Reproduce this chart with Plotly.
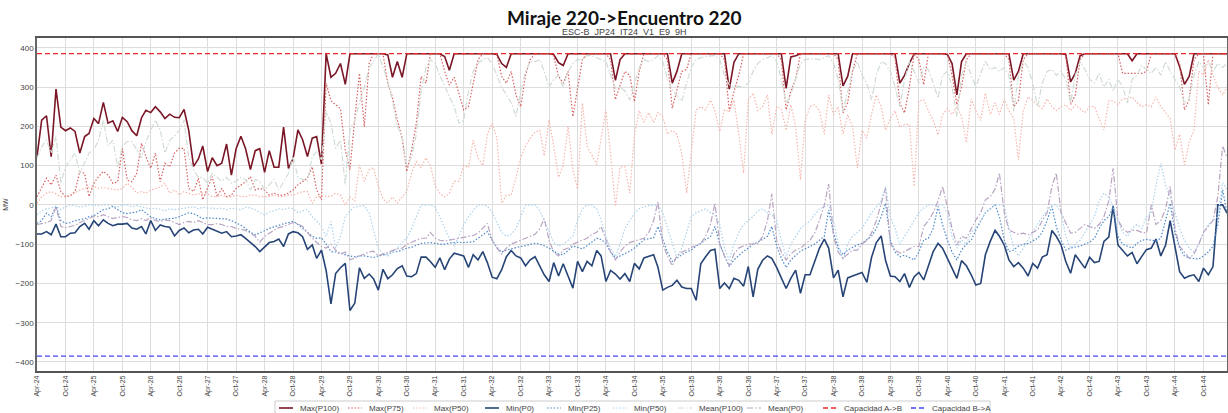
import plotly.graph_objs as go
import pandas as pd

# monthly series, Apr-24 .. Mar-45
months = pd.date_range('2024-04-01', periods=252, freq='MS')

max_p100 = [
	123, 216, 227, 123, 295, 198, 189, 196, 187, 132, 174, 182,
	220, 207, 261, 208, 214, 187, 223, 212, 189, 176, 222, 241,
	235, 250, 237, 220, 231, 223, 222, 243, 190, 98, 117, 150,
	85, 120, 100, 106, 155, 76, 143, 175, 143, 90, 138, 143,
	83, 138, 96, 96, 198, 93, 118, 191, 166, 123, 170, 174,
	104, 385, 325, 335, 360, 307, 385, 385, 385, 385, 385, 385,
	385, 385, 382, 325, 365, 325, 385, 385, 385, 385, 385, 385,
	385, 385, 378, 343, 385, 385, 385, 385, 385, 385, 385, 385,
	385, 383, 360, 350, 385, 385, 385, 385, 385, 385, 385, 385,
	385, 383, 362, 355, 385, 385, 385, 385, 385, 385, 385, 385,
	385, 385, 317, 370, 385, 385, 385, 385, 385, 385, 385, 385,
	385, 385, 310, 340, 385, 385, 385, 385, 385, 385, 385, 385,
	385, 385, 295, 363, 385, 385, 385, 385, 385, 385, 385, 385,
	385, 385, 297, 377, 380, 385, 385, 385, 385, 385, 385, 385,
	385, 385, 303, 327, 385, 385, 385, 385, 385, 385, 385, 385,
	385, 385, 310, 330, 360, 385, 385, 385, 385, 385, 385, 385,
	383, 360, 280, 365, 385, 385, 385, 385, 385, 385, 385, 385,
	385, 385, 318, 340, 385, 385, 385, 385, 385, 385, 385, 385,
	385, 383, 313, 335, 380, 385, 385, 385, 385, 385, 385, 385,
	385, 385, 385, 367, 385, 385, 385, 385, 385, 385, 385, 385,
	385, 352, 307, 327, 385, 385, 385, 385, 385, 385, 385, 385,
]

max_p75 = [
	21, 45, 68, 51, 76, 34, 21, 23, 34, 85, 80, 21,
	55, 72, 85, 76, 55, 59, 144, 63, 59, 80, 157, 123,
	93, 132, 59, 106, 97, 132, 144, 144, 42, 34, 68, 13,
	42, 72, 21, 42, 21, 25, 42, 51, 59, 72, 38, 42,
	38, 25, 30, 25, 25, 30, 38, 51, 59, 68, 97, 38,
	13, 310, 265, 255, 245, 140, 90, 220, 335, 199, 360, 385,
	385, 385, 307, 274, 216, 170, 85, 140, 208, 327, 310, 385,
	385, 385, 340, 305, 325, 280, 242, 250, 307, 370, 385, 385,
	385, 383, 327, 310, 340, 280, 250, 330, 370, 385, 385, 385,
	385, 380, 327, 310, 340, 225, 300, 370, 385, 385, 385, 385,
	385, 370, 268, 305, 340, 330, 263, 340, 385, 385, 385, 385,
	385, 370, 246, 293, 340, 345, 385, 385, 385, 385, 385, 385,
	385, 370, 238, 289, 330, 385, 385, 385, 385, 385, 385, 385,
	385, 370, 242, 290, 320, 385, 385, 385, 385, 385, 385, 385,
	385, 370, 234, 260, 340, 385, 385, 385, 385, 385, 385, 385,
	385, 375, 259, 234, 300, 385, 370, 306, 385, 385, 385, 385,
	385, 330, 255, 300, 370, 385, 385, 385, 385, 385, 385, 385,
	385, 370, 250, 265, 370, 385, 385, 385, 385, 385, 385, 385,
	385, 385, 255, 280, 370, 385, 385, 385, 385, 385, 385, 385,
	385, 335, 335, 335, 335, 335, 340, 385, 385, 385, 385, 385,
	385, 360, 242, 268, 370, 385, 385, 255, 385, 385, 385, 385,
]

max_p50 = [
	4, 21, 30, 34, 28, 21, 21, 25, 30, 38, 42, 45,
	47, 42, 44, 42, 40, 38, 42, 55, 45, 30, 34, 30,
	38, 42, 45, 55, 30, 38, 25, 34, 30, 25, 28, 30,
	28, 21, 21, 25, 20, 21, 25, 21, 21, 25, 25, 21,
	21, 21, 25, 21, 21, 25, 25, 30, 34, 34, 4, 21,
	21, 22, 22, 30, 25, 0, 20, 10, 102, 60, 90, 95,
	47, 15, 5, 20, 5, 20, 35, 81, 110, 95, 120, 100,
	50, 30, 20, 30, 60, 60, 100, 95, 165, 120, 100, 180,
	208, 170, 4, 25, 25, 70, 120, 150, 170, 185, 190, 125,
	217, 150, 70, 100, 200, 90, 40, 259, 150, 127, 102, 170,
	242, 130, -4, 97, 97, 30, 178, 240, 210, 235, 210, 235,
	225, 180, 190, 180, 130, 30, 130, 242, 250, 242, 267, 240,
	187, 242, 238, 267, 180, 81, 267, 285, 240, 250, 280, 180,
	250, 245, 190, 255, 200, 64, 215, 250, 255, 240, 180, 280,
	230, 250, 180, 230, 200, 94, 190, 170, 230, 280, 250, 190,
	220, 240, 198, 205, 205, 47, 264, 268, 240, 215, 178, 230,
	245, 230, 250, 225, 158, 270, 240, 215, 285, 230, 260, 230,
	270, 240, 220, 115, 240, 275, 265, 255, 245, 270, 250, 240,
	250, 255, 240, 255, 245, 235, 250, 250, 220, 191, 265, 265,
	255, 270, 270, 275, 260, 250, 255, 250, 275, 250, 235, 220,
	140, 180, 102, 160, 190, 340, 330, 370, 330, 300, 280, 300,
]

min_p0 = [
	-74, -74, -68, -76, -49, -81, -81, -72, -71, -55, -47, -62,
	-40, -53, -38, -47, -53, -49, -49, -47, -59, -62, -55, -74,
	-40, -65, -51, -55, -57, -79, -65, -59, -71, -64, -62, -74,
	-57, -62, -68, -72, -68, -81, -79, -76, -85, -96, -106, -119,
	-106, -96, -93, -87, -106, -74, -68, -71, -81, -113, -102, -136,
	-115, -167, -252, -175, -160, -149, -269, -250, -160, -187, -176, -188,
	-217, -164, -188, -178, -162, -155, -181, -183, -175, -133, -133, -144,
	-159, -135, -165, -138, -123, -127, -130, -159, -127, -140, -119, -147,
	-184, -188, -165, -132, -116, -130, -135, -155, -140, -132, -157, -178,
	-195, -147, -181, -150, -181, -212, -144, -170, -144, -155, -116, -130,
	-195, -167, -176, -189, -175, -195, -149, -163, -135, -130, -127, -159,
	-217, -210, -205, -192, -209, -213, -213, -243, -150, -132, -116, -113,
	-213, -199, -213, -187, -192, -207, -157, -234, -164, -141, -130, -136,
	-159, -186, -213, -187, -166, -225, -178, -178, -147, -110, -87, -110,
	-186, -166, -234, -186, -181, -176, -172, -197, -134, -96, -79, -141,
	-181, -183, -195, -175, -210, -183, -172, -191, -153, -119, -98, -110,
	-136, -161, -187, -142, -155, -178, -204, -200, -127, -93, -65, -80,
	-102, -140, -157, -147, -161, -181, -149, -161, -133, -127, -65, -80,
	-102, -144, -174, -127, -144, -161, -133, -147, -144, -93, -82, -3,
	-102, -116, -130, -121, -150, -131, -114, -110, -87, -130, -102, -40,
	-110, -170, -187, -181, -178, -195, -161, -178, -157, 0, 0, -21,
]

min_p25 = [
	-47, -40, -21, -30, -3, -40, -47, -45, -40, -38, -35, -30,
	-28, -20, -12, -10, -4, -12, -20, -22, -20, -18, -12, -20,
	-30, -35, -38, -36, -35, -34, -30, -25, -20, -22, -30, -35,
	-33, -34, -34, -35, -36, -40, -45, -52, -60, -70, -76, -72,
	-66, -60, -55, -52, -48, -44, -42, -50, -60, -68, -80, -85,
	-84, -100, -119, -120, -124, -127, -130, -132, -130, -130, -132, -134,
	-130, -128, -125, -120, -119, -115, -110, -108, -104, -98, -97, -96,
	-98, -100, -100, -97, -96, -95, -96, -94, -94, -85, -76, -68,
	-90, -108, -120, -115, -112, -108, -106, -104, -100, -98, -100, -104,
	-110, -118, -125, -127, -115, -105, -108, -112, -104, -95, -85, -88,
	-98, -120, -136, -130, -125, -118, -110, -100, -89, -86, -84, -55,
	-90, -120, -144, -135, -127, -120, -115, -105, -98, -88, -81, -55,
	-100, -130, -157, -140, -128, -118, -110, -100, -95, -88, -80, -55,
	-105, -135, -160, -140, -130, -118, -112, -105, -100, -90, -80, -13,
	-70, -110, -127, -115, -108, -102, -98, -90, -80, -60, -30, 4,
	-90, -120, -132, -128, -135, -140, -120, -89, -85, -60, -4, -50,
	-90, -120, -140, -115, -100, -90, -64, -40, -20, -10, 0, -30,
	-90, -119, -115, -105, -100, -98, -92, -85, -70, -40, -4, -55,
	-90, -115, -110, -108, -105, -100, -95, -85, -60, -40, -30, -5,
	-80, -100, -105, -110, -98, -90, -88, -90, -92, -85, -40, 4,
	-70, -110, -130, -135, -137, -138, -130, -120, -105, -50, 38, -21,
]

min_p50 = [
	-25, -15, -10, -8, -3, -12, -5, 0, -2, -5, -3, 0,
	0, -2, 0, 0, -3, -5, 0, 0, -5, -2, -5, -8,
	-10, -8, -12, -15, -10, -12, -10, -8, -6, -5, -10, -6,
	-8, -8, -10, -8, -12, -8, -10, -12, -6, -8, -12, -20,
	-25, -18, -15, -10, -12, -8, -10, -20, -15, -12, -30, -40,
	-55, -80, -42, -110, -80, -30, -15, -5, -4, -2, -20, -60,
	-111, -125, -130, -120, -110, -95, -85, -60, -30, 0, 0, 0,
	-5, -30, -60, -85, -104, -80, -50, -30, -15, 0, 0, -3,
	-20, -45, -70, -80, -75, -60, -30, 0, 0, 0, -15, -40,
	-70, -95, -105, -100, -90, -80, -40, -10, 0, 0, -10, -40,
	-81, -110, -132, -100, -60, -40, -21, -10, -5, -2, 0, 0,
	-20, -60, -100, -135, -110, -70, -30, -20, -15, -10, -20, -25,
	-50, -110, -140, -100, -70, -50, -40, -30, -15, -10, -20, -25,
	-40, -90, -132, -100, -80, -60, -50, -40, -25, -10, -5, 0,
	-40, -100, -140, -100, -80, -70, -60, -40, -20, -5, 10, 47,
	-30, -60, -100, -80, -60, -40, -20, -8, 0, 0, 0, 0,
	-20, -80, -110, -90, -100, -70, -60, -40, -20, -10, 0, 0,
	0, -60, -110, -130, -110, -90, -70, -50, -30, -15, 0, 0,
	-20, -80, -110, -100, -90, -70, -50, -30, 10, 30, 20, -5,
	-40, -70, -80, -60, -50, -60, -30, -20, 50, 106, 50, 20,
	-20, -60, -90, -110, -120, -100, -70, -50, -40, -30, 57, 40,
]

mean_p100 = [
	119, 148, 165, 132, 174, 55, 97, 114, 132, 80, 106, 132,
	140, 165, 216, 150, 165, 95, 150, 161, 161, 140, 120, 161,
	191, 216, 191, 132, 165, 175, 190, 216, 120, 89, 70, 70,
	55, 80, 70, 60, 70, 55, 60, 70, 65, 38, 65, 60,
	38, 50, 65, 38, 60, 80, 123, 70, 65, 60, 123, 135,
	115, 238, 208, 144, 165, 51, 191, 216, 260, 299, 350, 365,
	385, 350, 315, 265, 200, 175, 98, 121, 180, 290, 350, 370,
	360, 330, 300, 276, 250, 208, 215, 290, 340, 360, 370, 375,
	360, 330, 300, 280, 260, 225, 290, 340, 365, 365, 370, 340,
	300, 320, 330, 300, 340, 360, 370, 370, 380, 380, 375, 370,
	365, 330, 297, 300, 290, 267, 310, 350, 370, 365, 370, 380,
	365, 320, 293, 280, 264, 310, 350, 370, 375, 378, 380, 380,
	370, 330, 306, 300, 302, 300, 310, 340, 360, 370, 375, 380,
	365, 320, 259, 280, 320, 360, 370, 372, 372, 370, 375, 380,
	360, 320, 238, 290, 340, 365, 330, 310, 267, 330, 365, 360,
	340, 300, 250, 318, 365, 340, 310, 350, 345, 310, 272, 330,
	340, 300, 225, 330, 365, 330, 300, 335, 365, 345, 350, 340,
	350, 330, 238, 330, 365, 350, 310, 250, 310, 340, 345, 330,
	340, 320, 259, 330, 365, 345, 320, 310, 335, 300, 320, 290,
	320, 300, 259, 320, 330, 355, 345, 335, 350, 330, 365, 340,
	320, 300, 259, 270, 330, 365, 350, 365, 340, 360, 350, 360,
]

mean_p0 = [
	-50, -48, -45, -40, -5, -55, -58, -55, -52, -45, -40, -35,
	-28, -30, -25, -30, -35, -32, -30, -32, -38, -40, -35, -40,
	-32, -40, -42, -38, -40, -45, -50, -45, -42, -45, -40, -45,
	-50, -50, -48, -50, -55, -55, -60, -62, -65, -72, -80, -95,
	-80, -72, -65, -58, -55, -50, -45, -48, -55, -70, -85, -95,
	-106, -110, -100, -115, -125, -120, -140, -135, -130, -125, -120, -118,
	-130, -125, -120, -115, -112, -110, -100, -95, -90, -85, -85, -70,
	-85, -90, -92, -90, -88, -85, -82, -80, -78, -72, -60, -47,
	-90, -110, -125, -110, -100, -95, -90, -85, -80, -75, -60, -35,
	-90, -120, -130, -115, -110, -100, -95, -90, -85, -75, -70, -55,
	-90, -120, -140, -120, -105, -96, -92, -88, -85, -70, -40, 8,
	-100, -130, -155, -130, -120, -115, -108, -104, -98, -80, -50, 4,
	-100, -130, -155, -125, -110, -104, -100, -100, -98, -80, -40, 28,
	-90, -120, -140, -125, -115, -110, -100, -90, -72, -40, 0, 53,
	-80, -120, -136, -125, -115, -115, -100, -90, -72, -40, 0, 42,
	-100, -115, -123, -119, -112, -106, -106, -55, -40, -20, 10, 47,
	-4, -60, -102, -80, -85, -60, -38, -20, 13, 21, 40, 81,
	-20, -64, -70, -75, -72, -76, -70, -64, -40, -21, 47, 81,
	-20, -47, -72, -70, -60, -50, -55, -60, -50, -30, 10, 93,
	-38, -60, -70, -65, -65, -70, -72, 0, -50, -40, -10, 47,
	-60, -106, -120, -136, -125, -100, -70, -55, -40, 21, 150, 120,
]

cap_ab = 385
cap_ba = -385

# figure geometry (pixels)
W, H = 1228, 413
L, R, T, B = 37, 1, 38, 42
PLOT_W = W - L - R
PLOT_H = H - T - B

DOT = '1.5px,1.8px'
DASHDOT = '6px,2px,1.5px,2px'
DASH = '5px,3px'

# name, values, colour, width, dash
styles = [
	('Max(P100)', max_p100, 'rgb(122, 22, 38)', 1.6, 'solid'),
	('Max(P75)', max_p75, 'rgb(214, 96, 96)', 1.2, DOT),
	('Max(P50)', max_p50, 'rgb(247, 182, 172)', 1.2, DOT),
	('Min(P0)', min_p0, 'rgb(38, 68, 118)', 1.6, 'solid'),
	('Min(P25)', min_p25, 'rgb(76, 136, 200)', 1.2, DOT),
	('Min(P50)', min_p50, 'rgb(172, 210, 236)', 1.2, DOT),
	('Mean(P100)', mean_p100, 'rgb(208, 220, 212)', 1.2, DASHDOT),
	('Mean(P0)', mean_p0, 'rgb(184, 164, 194)', 1.2, DASHDOT),
	('Capacidad A->B', [cap_ab] * len(months), 'rgb(235, 40, 40)', 1.3, DASH),
	('Capacidad B->A', [cap_ba] * len(months), 'rgb(70, 70, 245)', 1.3, DASH),
]

data = []
for name, y, color, width, dash in styles:
	data.append(go.Scatter(
		x = months,
		y = y,
		name = name,
		mode = 'lines',
		line = dict(color = color, width = width, dash = dash)
	))

# legend drawn by hand so it keeps matplotlib's compact spacing
legend_left = [279, 348, 413, 485, 547, 613, 678, 747, 823, 911]
legend_y = 408
shapes = [dict(type = 'rect', xref = 'paper', yref = 'paper',
	x0 = (275 - L) / PLOT_W, x1 = (990 - L) / PLOT_W,
	y0 = (H - B - 401) / PLOT_H, y1 = (H - B - 425) / PLOT_H,
	line = dict(color = '#cccccc', width = 1), fillcolor = 'white', layer = 'below')]
annotations = []
for (name, y, color, width, dash), px in zip(styles, legend_left):
	yy = (H - B - legend_y) / PLOT_H
	shapes.append(dict(type = 'line', xref = 'paper', yref = 'paper',
		x0 = (px - L) / PLOT_W, x1 = (px + 14 - L) / PLOT_W, y0 = yy, y1 = yy,
		line = dict(color = color, width = width, dash = dash)))
	annotations.append(dict(text = name, xref = 'paper', yref = 'paper',
		x = (px + 19 - L) / PLOT_W, y = yy, xanchor = 'left', yanchor = 'middle',
		showarrow = False, font = dict(size = 8, color = '#444')))

annotations += [
	dict(text = '<b>Miraje 220->Encuentro 220</b>', xref = 'paper', yref = 'paper',
		x = 0.4935, y = 1.0, yshift = 21, yanchor = 'middle', showarrow = False,
		font = dict(family = 'Lato, sans-serif', size = 19, color = '#111')),
	dict(text = 'ESC-B_JP24_IT24_V1_E9_9H', xref = 'paper', yref = 'paper',
		x = 0.4935, y = 1.0, yshift = 6, yanchor = 'middle', showarrow = False,
		font = dict(size = 9, color = '#444')),
]

layout = dict(
	width = W,
	height = H,
	margin = dict(l = L, r = R, t = T, b = B),
	paper_bgcolor = 'white',
	plot_bgcolor = 'white',
	font = dict(family = 'Liberation Sans, Arial, sans-serif', size = 8, color = '#444'),
	showlegend = False,
	xaxis = dict(
		range = [months[0], months[-1]],
		tick0 = '2024-04-01',
		dtick = 'M6',
		tickformat = '%b-%y',
		tickangle = -90,
		tickfont = dict(size = 7, color = '#444'),
		showgrid = True,
		gridcolor = '#dddddd',
		showline = True, linecolor = '#555', linewidth = 1.5, mirror = True,
		ticks = '',
		zeroline = False,
		automargin = False,
	),
	yaxis = dict(
		range = [-423, 425],
		dtick = 100,
		tickfont = dict(size = 8, color = '#444'),
		title = dict(text = 'MW', font = dict(size = 7, color = '#444'), standoff = 6),
		showgrid = True,
		gridcolor = '#dddddd',
		showline = True, linecolor = '#666', linewidth = 1.5, mirror = True,
		zeroline = False,
		automargin = False,
	),
	shapes = shapes,
	annotations = annotations,
)

fig = go.Figure(data = data, layout = layout)
# drop the browser's default body margin so the figure sits at the page corner
fig.write_html('out.html', config = {'displayModeBar': False},
	post_script = "document.body.style.margin = '0';")
